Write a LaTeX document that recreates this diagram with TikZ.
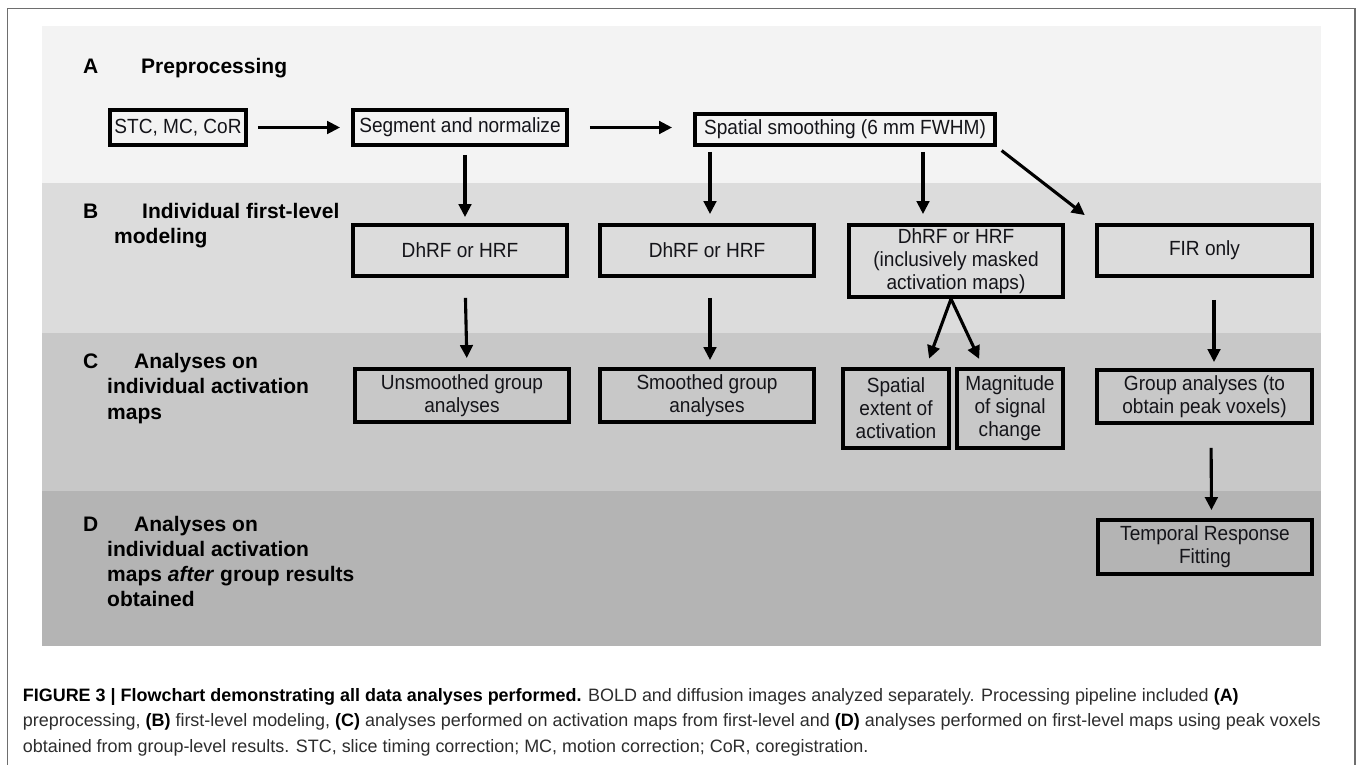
\documentclass[tikz,border=0pt]{standalone}
\usepackage{fontspec}
\setmainfont{Liberation Sans}
\newfontfamily\boxfont[FakeStretch=0.93]{Liberation Sans}
\usetikzlibrary{arrows.meta}
\definecolor{bandA}{RGB}{243,243,243}
\definecolor{bandB}{RGB}{220,220,220}
\definecolor{bandC}{RGB}{200,200,200}
\definecolor{bandD}{RGB}{180,180,180}
\definecolor{framegray}{RGB}{110,110,110}
\definecolor{boxtext}{RGB}{20,20,25}
\definecolor{captext}{RGB}{45,45,45}
\tikzset{
  stepbox/.style={draw=black, line width=3.8pt, align=center, inner sep=1pt,
    text=boxtext, font=\boxfont\fontsize{20.5}{23}\selectfont},
  bandlbl/.style={anchor=base west, inner sep=0pt, font=\fontsize{21}{25}\bfseries\selectfont},
  caplbl/.style={anchor=base west, inner sep=0pt, text=captext, font=\fontsize{17.95}{21}\selectfont},
  arr/.style={line width=3.1pt, -{Triangle[length=13pt,width=12.5pt]}},
}
\begin{document}
\begin{tikzpicture}[x=1pt,y=-1pt]
\useasboundingbox (0,0) rectangle (1357,765);
\fill[white] (0,0) rectangle (1357,765);
\draw[framegray, line width=1.8pt] (7.5,790) -- (7.5,8.5) -- (1355,8.5) -- (1355,790);
% bands
\fill[bandA] (42,26) rectangle (1321,183);
\fill[bandB] (42,183) rectangle (1321,333);
\fill[bandC] (42,333) rectangle (1321,491);
\fill[bandD] (42,491) rectangle (1321,646);
% band labels
\node[bandlbl] (la) at (83,74) {A};
\node[bandlbl] (la1) at (141,74) {Preprocessing};
\node[bandlbl] (lb) at (83,218) {B};
\node[bandlbl] (lb1) at (142,218) {Individual first-level};
\node[bandlbl] (lb2) at (114,243) {modeling};
\node[bandlbl] (lc) at (83,368) {C};
\node[bandlbl] (lc1) at (134,368) {Analyses on};
\node[bandlbl] (lc2) at (107,393) {individual activation};
\node[bandlbl] (lc3) at (107,419) {maps};
\node[bandlbl] (ld) at (83,531) {D};
\node[bandlbl] (ld1) at (134,531) {Analyses on};
\node[bandlbl] (ld2) at (107,556) {individual activation};
\node[bandlbl] (ld3) at (107,581) {maps \textit{after} group results};
\node[bandlbl] (ld4) at (107,606) {obtained};
% boxes
\node[stepbox, minimum width=136pt, minimum height=35pt] (stc) at (178,127.5) {STC, MC, CoR};
\node[stepbox, minimum width=214pt, minimum height=35pt] (seg) at (460,127.5) {Segment and normalize};
\node[stepbox, minimum width=300pt, minimum height=31pt] (spa) at (845,129.5) {Spatial smoothing (6 mm FWHM)};
\node[stepbox, minimum width=214pt, minimum height=51pt] (dh1) at (460,250.5) {DhRF or HRF};
\node[stepbox, minimum width=214pt, minimum height=51pt] (dh2) at (707,250.5) {DhRF or HRF};
\node[stepbox, minimum width=214pt, minimum height=72pt, font=\boxfont\fontsize{20.5}{22.7}\selectfont] (dh3) at (956,261) {DhRF or HRF\\(inclusively masked\\activation maps)};
\node[stepbox, minimum width=215pt, minimum height=51pt] (fir) at (1204.5,250.5) {FIR only};
\node[stepbox, minimum width=214pt, minimum height=53pt] (uns) at (462,395.5) {Unsmoothed group\\analyses};
\node[stepbox, minimum width=214pt, minimum height=53pt] (smo) at (707,395.5) {Smoothed group\\analyses};
\node[stepbox, minimum width=106pt, minimum height=79pt] (spx) at (896,408.5) {Spatial\\extent of\\activation};
\node[stepbox, minimum width=106pt, minimum height=79pt] (mag) at (1010,408.5) {Magnitude\\of signal\\change};
\node[stepbox, minimum width=215pt, minimum height=53pt] (grp) at (1204.5,396.5) {Group analyses (to\\obtain peak voxels)};
\node[stepbox, minimum width=214pt, minimum height=54pt] (tem) at (1205,547) {Temporal Response\\Fitting};
% arrows
\draw[arr, shorten <=10pt, shorten >=11pt] (stc.east) -- (stc.east -| seg.west);
\draw[arr, shorten <=21pt, shorten >=21pt] (seg.east) -- (seg.east -| spa.west);
\draw[arr, shorten <=8pt, shorten >=6pt] ([xshift=5pt]seg.south) -- ([xshift=5pt]dh1.north);
\draw[arr, shorten <=5pt, shorten >=9pt] ([xshift=3pt]dh2.north |- spa.south) -- ([xshift=3pt]dh2.north);
\draw[arr, shorten <=5pt, shorten >=9pt] ([xshift=-33pt]dh3.north |- spa.south) -- ([xshift=-33pt]dh3.north);
\draw[arr, shorten <=6pt, shorten >=13pt] (spa.south east) -- (fir.north west);
\draw[arr, shorten <=20pt, shorten >=9pt] ([xshift=5pt]dh1.south) -- ([xshift=5pt]uns.north);
\draw[arr, shorten <=20pt, shorten >=7pt] ([xshift=3pt]dh2.south) -- ([xshift=3pt]smo.north);
\draw[arr, shorten <=0pt, shorten >=9pt] ([xshift=-5pt]dh3.south) -- ([xshift=30pt]spx.north);
\draw[arr, shorten <=0pt, shorten >=9pt] ([xshift=-5pt]dh3.south) -- ([xshift=-27pt]mag.north);
\draw[arr, shorten <=22pt, shorten >=6pt] ([xshift=9.5pt]fir.south) -- ([xshift=9.5pt]grp.north);
\draw[arr, shorten <=23pt, shorten >=8pt] ([xshift=6.5pt]grp.south) -- ([xshift=6.5pt]tem.north);
% caption
\node[caplbl] (cap1) at (22.7,701) {\textbf{\color{black}FIGURE 3 | Flowchart demonstrating all data analyses performed.} BOLD and diffusion images analyzed separately. Processing pipeline included \textbf{\color{black}(A)}};
\node[caplbl] (cap2) at (22.7,726) {preprocessing, \textbf{\color{black}(B)} first-level modeling, \textbf{\color{black}(C)} analyses performed on activation maps from first-level and \textbf{\color{black}(D)} analyses performed on first-level maps using peak voxels};
\node[caplbl] (cap3) at (22.7,752) {obtained from group-level results. STC, slice timing correction; MC, motion correction; CoR, coregistration.};
\end{tikzpicture}
\end{document}
